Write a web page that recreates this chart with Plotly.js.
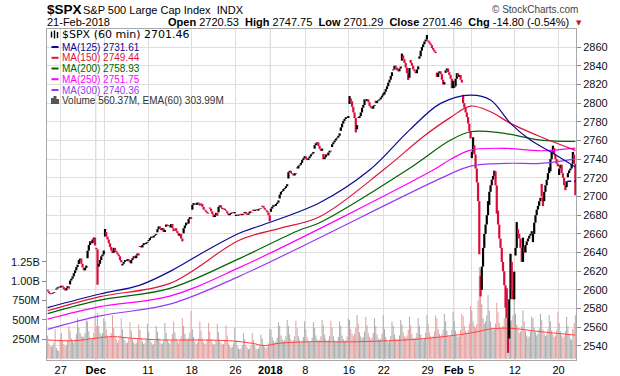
<!DOCTYPE html>
<html><head><meta charset="utf-8">
<script src="https://cdn.plot.ly/plotly-3.0.1.min.js"></script>
<style>html,body{margin:0;padding:0;background:#fff}#chart{width:620px;height:376px}</style>
</head><body><div id="chart"></div>
<script>
// ---------------- DATA ----------------
const dates = ['Nov 22','Nov 24','Nov 27','Nov 28','Nov 29','Nov 30','Dec 1','Dec 4','Dec 5','Dec 6','Dec 7','Dec 8',
'Dec 11','Dec 12','Dec 13','Dec 14','Dec 15','Dec 18','Dec 19','Dec 20','Dec 21','Dec 22','Dec 26','Dec 27','Dec 28','Dec 29',
'Jan 2','Jan 3','Jan 4','Jan 5','Jan 8','Jan 9','Jan 10','Jan 11','Jan 12','Jan 16','Jan 17','Jan 18','Jan 19','Jan 22','Jan 23',
'Jan 24','Jan 25','Jan 26','Jan 29','Jan 30','Jan 31','Feb 1','Feb 2','Feb 5','Feb 6','Feb 7','Feb 8','Feb 9','Feb 12','Feb 13',
'Feb 14','Feb 15','Feb 16','Feb 20','Feb 21'];
const dayOpen = [2600.3,2600.4,2602.7,2605.9,2627.8,2633.9,2645.1,2657.2,2639.8,2626.2,2628.4,2646.2,
2652.2,2661.7,2667.6,2665.9,2660.6,2685.9,2692.7,2688.2,2683.0,2684.2,2679.1,2682.1,2686.1,2689.2,
2683.7,2697.9,2719.3,2731.3,2742.7,2751.2,2745.6,2753.0,2770.2,2799.0,2785.0,2802.4,2802.6,2809.2,2835.0,
2845.4,2846.2,2847.5,2867.2,2832.7,2832.4,2816.5,2808.9,2741.1,2614.8,2691.0,2685.0,2601.8,2636.8,2646.3,
2651.2,2713.5,2727.1,2723.0,2720.53];
const hourClose = [
[2598.5,2596.5,2595.5,2596.0,2596.8,2597.5,2597.1],
[2601.5,2602.8,2603.5,2602.4],
[2604.5,2603.0,2600.5,2599.5,2602.0,2604.0,2601.4],
[2610,2612,2614.5,2618,2621,2624.5,2627.0],
[2632,2633.5,2628,2624,2621,2623.5,2626.1],
[2642,2648,2652,2650,2654,2656,2647.6],
[2643.5,2625,2628,2632,2636,2638,2642.2],
[2662,2657,2654,2650,2646,2642,2639.4],
[2645,2642,2640,2638,2636,2632,2629.6],
[2628,2630,2632,2631,2633,2630.5,2629.3],
[2632,2634,2636,2634,2637,2639,2637.0],
[2647,2645.5,2648,2650,2649,2650.5,2651.5],
[2653.5,2655.5,2657,2656,2658,2659,2660.0],
[2665,2668,2666,2664,2666,2662,2664.1],
[2670,2668.5,2669,2667,2670.5,2666,2662.9],
[2666,2663,2661,2658,2660,2655,2652.0],
[2666,2669,2672,2671,2676,2678,2675.8],
[2691,2693,2692.5,2691,2693.5,2692,2690.2],
[2692,2689,2686,2685,2683.5,2682,2681.5],
[2687,2684,2681,2678,2680,2682.5,2679.3],
[2689,2690.5,2688,2686.5,2687,2685.5,2684.6],
[2682,2680,2681.5,2682.5,2683,2682,2683.3],
[2680.5,2679.5,2680.5,2681,2680,2681.5,2680.5],
[2683.5,2681.5,2680.5,2682,2684,2683,2682.6],
[2684.5,2685.5,2686,2685,2686.5,2687,2687.5],
[2690,2688,2686,2685,2683,2680,2673.6],
[2687,2689,2691,2690,2692,2693.5,2695.8],
[2702,2705,2706,2708,2709,2711,2713.1],
[2726,2727.5,2725,2724,2722.5,2725,2724.0],
[2730,2733,2734,2736,2739,2741,2743.2],
[2740,2739,2741,2743,2745,2746,2747.7],
[2755,2757,2758,2754,2751,2749,2751.3],
[2740,2742,2745,2744,2747,2749,2748.2],
[2756,2758,2760,2762,2763,2765,2767.6],
[2774,2778,2781,2783,2785,2784,2786.2],
[2805,2802,2796,2790,2784,2772,2776.4],
[2784,2786,2790,2795,2798,2804,2802.6],
[2804,2801,2797,2795,2794,2797,2798.0],
[2800,2802,2803,2804,2806,2808,2810.3],
[2812,2815,2818,2822,2825,2829,2833.0],
[2836,2840,2838,2835,2834,2837,2839.1],
[2851,2847,2843,2838,2832,2827,2837.5],
[2843,2840,2836,2834,2832,2836,2839.3],
[2850,2856,2860,2863,2866,2868,2872.9],
[2866,2864,2862,2859,2857,2855,2853.5],
[2828,2832,2834,2831,2825,2820,2822.4],
[2835,2837,2833,2830,2826,2816,2823.8],
[2818,2826,2832,2828,2830,2825,2822.0],
[2800,2795,2790,2785,2778,2770,2762.1],
[2748,2755,2745,2730,2715,2695,2648.9],
[2600,2625,2645,2660,2670,2680,2695.1],
[2705,2712,2718,2722,2727,2712,2681.7],
[2670,2655,2645,2630,2620,2605,2581.0],
[2570,2548,2590,2630,2600,2590,2619.6],
[2645,2665,2660,2655,2645,2630,2656.0],
[2640,2648,2652,2655,2658,2660,2662.9],
[2660,2672,2680,2686,2690,2695,2698.6],
[2700,2695,2705,2712,2718,2725,2731.2],
[2740,2748,2752,2745,2740,2735,2732.2],
[2730,2734,2725,2720,2712,2710,2716.26],
[2725,2728,2730,2735,2745,2735,2701.46]];
// intraday extremes beyond open/close of the hourly bar
const spikeDay  = [6,7,35,35,41,41,49,49,50,51,53,53,54,57,58,59,60];
const spikeHour = [1,0,0,5,0,5,6,1,0,4,1,3,1,1,2,5,4];
const spikeVal  = [2605.5,2665.2,2807.5,2768.6,2853.0,2824.8,2638.2,2763.4,2593.1,2727.7,2532.7,2638.7,2672.6,2689.8,2754.4,2706.8,2747.75];
// hourly volume, millions
const hourVolM = [
[300,200,170,150,170,210,380],[140,110,100,260],[330,230,190,160,180,230,420],[360,260,230,210,250,320,520],
[400,330,300,280,290,330,500],[480,350,280,240,260,330,560],[420,590,420,330,300,330,520],[480,380,300,260,280,330,560],
[400,300,250,210,240,300,520],[380,280,230,200,210,260,470],[360,260,210,190,200,250,440],[370,270,220,190,200,240,450],
[340,250,210,180,190,230,420],[350,260,220,190,200,240,460],[330,250,210,190,230,320,480],[340,260,220,200,230,290,520],
[420,320,260,240,260,340,615],[380,280,220,190,210,260,480],[360,260,210,190,200,250,460],[350,250,200,180,190,240,450],
[340,240,200,180,190,240,430],[300,200,160,140,150,200,400],[240,170,130,120,130,170,330],[250,170,140,120,130,170,330],
[240,170,130,120,130,160,310],[260,180,150,130,150,200,380],[380,280,230,200,220,270,470],[420,300,250,220,240,290,500],
[420,310,250,220,240,290,490],[400,290,240,210,230,280,480],[380,280,230,210,220,270,470],[400,300,250,220,240,290,500],
[430,310,250,220,240,290,490],[400,290,240,210,230,280,480],[420,300,250,220,240,290,520],[500,380,320,290,320,400,560],
[450,340,290,260,280,350,540],[430,330,280,250,270,330,520],[420,310,260,240,260,320,560],[380,280,230,210,230,290,480],
[420,310,260,230,250,300,500],[440,340,290,270,300,370,540],[430,320,270,250,270,330,520],[420,310,260,240,260,330,560],
[450,340,290,270,290,350,560],[520,380,320,290,310,370,580],[480,360,300,280,300,380,600],[480,360,300,280,300,370,580],
[550,420,360,330,370,450,680],[620,480,420,400,450,750,1180],[1150,700,520,450,480,560,820],[620,480,400,360,380,450,720],
[600,460,400,380,420,520,800],[800,700,560,480,500,560,780],[580,440,380,330,350,420,620],[480,360,300,270,290,350,540],
[520,400,340,300,320,390,580],[500,380,320,290,310,380,560],[480,360,310,280,300,370,600],[460,350,300,270,290,360,540],
[420,310,260,240,380,460,560.37]];
// moving averages (bar number -> value)
const ma125Bars = [0,42,74,100,128,154,168,218,258,290,315,339,355,371,387,403,423];
const ma125Vals = [2581.1,2595.6,2605.2,2621.2,2642.7,2660.9,2667.6,2693.3,2728.3,2771.1,2799.7,2808.6,2803.3,2778.3,2760.4,2747.9,2731.61];
const ma150Bars = [0,42,98,154,186,218,269,301,323,339,355,371,395,423];
const ma150Vals = [2577.7,2592.9,2607.0,2653.4,2665.9,2678.3,2728.3,2764.0,2784.7,2796.8,2790.7,2778.3,2764.0,2749.44];
const ma200Bars = [0,42,98,154,202,218,288,323,339,363,395,423];
const ma200Vals = [2574.7,2589.1,2601.7,2633.8,2664.1,2671.9,2728.3,2760.4,2769.3,2768.2,2760.4,2758.93];
const ma250Bars = [0,42,98,154,309,323,339,368,395,423];
const ma250Vals = [2568.8,2582.2,2593.4,2624.1,2728.3,2739.8,2749.7,2751.5,2749.0,2751.75];
const ma300Bars = [0,42,98,154,315,339,368,395,423];
const ma300Vals = [2557.8,2572.2,2584.8,2614.8,2719.4,2732.6,2735.5,2735.5,2740.36];
const emaBars = [0,22,38,52,68,92,118,145,164,174,185,214,242,298,339,355,371,395,423];
const emaValsM = [241,232,263,284,263,241,241,232,198,168,198,219,216,254,331,383,392,348,303.99];
// header values
const symbol = '$SPX', fullName = 'S&amp;P 500 Large Cap Index', exch = 'INDX', lastDate = '21-Feb-2018';
const hdrOpen = 2720.53, hdrHigh = 2747.75, hdrLow = 2701.29, hdrClose = 2701.46, hdrChg = -14.80, hdrChgPct = -0.54;
const prevClose = 2716.26;
const lastVolM = 560.37, lastEmaM = 303.99;
// axes
const tickDates = ['Nov 27','Dec 1','Dec 4','Dec 11','Dec 18','Dec 26','Jan 2','Jan 8','Jan 16','Jan 22','Jan 29','Feb 1','Feb 5','Feb 12','Feb 20'];
const tickText  = ['27','<b>Dec</b>','','11','18','26','<b>2018</b>','8','16','22','29','<b>Feb</b>','5','12','20'];
const monthDates = ['Dec 1','Jan 2','Feb 1'];
const priceTicks = [2540,2560,2580,2600,2620,2640,2660,2680,2700,2720,2740,2760,2780,2800,2820,2840,2860];
const volTicks = [250e6,500e6,750e6,1000e6,1250e6];
const volTickText = ['250M','500M','750M','1.00B','1.25B'];

// ---------------- BUILD ----------------
const dayStart = [];
const bx=[],bo=[],bh=[],bl=[],bc=[],bv=[],vcol=[];
let n=0, prev=null;
hourClose.forEach((day,di)=>{
  dayStart.push(n);
  day.forEach((c,hi)=>{
    const o = hi===0 ? dayOpen[di] : prev;
    let h=Math.max(o,c), l=Math.min(o,c);
    spikeDay.forEach((sd,k)=>{ if(sd===di && spikeHour[k]===hi){ h=Math.max(h,spikeVal[k]); l=Math.min(l,spikeVal[k]); }});
    bx.push(n); bo.push(o); bh.push(h); bl.push(l); bc.push(c);
    bv.push(hourVolM[di][hi]*1e6);
    vcol.push(c>=o ? '#acacac' : '#e6a0a0');
    prev=c; n++;
  });
});
const lastBar = n-1;
const dStart = d => dayStart[dates.indexOf(d)] - 0.5;

// pixel helpers for layout placement (plot area 47..576 x 29..360)
const PL=47, PR=576, PT=29, PB=360;
const px = x => (x-PL)/(PR-PL);
const py = y => (PB-y)/(PB-PT);

const traces = [
  {type:'bar', x:bx, y:bv, marker:{color:vcol, line:{width:0}}, width:0.8, yaxis:'y', hoverinfo:'skip'},
  {type:'scatter', mode:'lines', x:emaBars, y:emaValsM.map(v=>v*1e6), line:{color:'#ff4040', width:1, shape:'spline'}, yaxis:'y'},
  {type:'scatter', mode:'lines', x:ma300Bars, y:ma300Vals, line:{color:'#963cf0', width:1.2, shape:'spline'}, yaxis:'y2'},
  {type:'scatter', mode:'lines', x:ma250Bars, y:ma250Vals, line:{color:'#ff00ff', width:1.2, shape:'spline'}, yaxis:'y2'},
  {type:'scatter', mode:'lines', x:ma200Bars, y:ma200Vals, line:{color:'#006400', width:1.2, shape:'spline'}, yaxis:'y2'},
  {type:'scatter', mode:'lines', x:ma150Bars, y:ma150Vals, line:{color:'#dc143c', width:1.2, shape:'spline'}, yaxis:'y2'},
  {type:'scatter', mode:'lines', x:ma125Bars, y:ma125Vals, line:{color:'#0a0a90', width:1.2, shape:'spline'}, yaxis:'y2'},
  {type:'ohlc', x:bx, open:bo, high:bh, low:bl, close:bc, tickwidth:0, yaxis:'y2',
   increasing:{line:{color:'#000000', width:2.2}}, decreasing:{line:{color:'#dc0a3c', width:2.2}}, hoverinfo:'skip'},
  {type:'scatter', mode:'lines', x:[dayStart[dayStart.length-1]-0.5, lastBar+0.5], y:[prevClose, prevClose],
   line:{color:'#0000ff', width:1.5, dash:'4px,3px'}, yaxis:'y2'}
];

const shapes = monthDates.map(d=>({type:'line', xref:'x', yref:'paper', x0:dStart(d), x1:dStart(d), y0:0, y1:1,
  line:{color:'#b4b4b4', width:1}, layer:'below'}));

const ann = [];
const A = (x,y,text,opt={}) => ann.push(Object.assign({xref:'paper', yref:'paper', x:px(x), y:py(y), text:text, showarrow:false,
  xanchor:'left', yanchor:'middle', font:{family:'Liberation Sans, Arial', size:11, color:'#000'}}, opt));
A(45, 9, '<b>'+symbol+'</b>', {font:{family:'Liberation Sans, Arial', size:13.5, color:'#000'}});
A(81, 9.5, fullName+'  '+exch, {font:{family:'Liberation Sans, Arial', size:11, color:'#000'}});
A(580, 9.5, '© StockCharts.com', {xanchor:'right', font:{family:'Liberation Sans, Arial', size:10, color:'#444'}});
A(45, 22, lastDate);
const f2 = v => v.toFixed(2);
A(571, 22, '<b>Open</b> '+f2(hdrOpen)+'  <b>High</b> '+f2(hdrHigh)+'  <b>Low</b> '+f2(hdrLow)+'  <b>Close</b> '+f2(hdrClose)+
  '  <b>Chg</b> '+f2(hdrChg)+' ('+f2(hdrChgPct)+'%)', {xanchor:'right'});
A(574, 22.5, '▼', {font:{family:'DejaVu Sans', size:7, color:'#c8102e'}});

// legend
const legRows = [
  [35, symbol+' (60 min) '+f2(hdrClose), '#000', 11, 'DejaVu Sans'],
  [47, 'MA(125) '+f2(ma125Vals[ma125Vals.length-1]), '#0a0a90', 10, 'Liberation Sans, Arial'],
  [57.8, 'MA(150) '+f2(ma150Vals[ma150Vals.length-1]), '#dc143c', 10, 'Liberation Sans, Arial'],
  [68.5, 'MA(200) '+f2(ma200Vals[ma200Vals.length-1]), '#006400', 10, 'Liberation Sans, Arial'],
  [79.2, 'MA(250) '+f2(ma250Vals[ma250Vals.length-1]), '#ff00ff', 10, 'Liberation Sans, Arial'],
  [90, 'MA(300) '+f2(ma300Vals[ma300Vals.length-1]), '#963cf0', 10, 'Liberation Sans, Arial'],
  [100.7, 'Volume '+f2(lastVolM)+'M, EMA(60) '+f2(lastEmaM)+'M', '#333', 10, 'Liberation Sans, Arial']
];
legRows.forEach((r,i)=>{
  A(59.5, r[0], r[1], {font:{family:r[4], size:r[3], color:r[2]}});
  if(i>0 && i<6){
    shapes.push({type:'line', xref:'paper', yref:'paper', x0:px(51.5), x1:px(58.5), y0:py(r[0]), y1:py(r[0]), line:{color:r[2], width:2}});
  }
});
// ohlc icon and volume icon
[[51.5,31.5,37.5],[54.5,30.5,38.5],[57.5,32,38]].forEach(s=>shapes.push({type:'line', xref:'paper', yref:'paper',
  x0:px(s[0]), x1:px(s[0]), y0:py(s[1]), y1:py(s[2]), line:{color:'#000', width:1.4}}));
[[51,54,98],[53.5,56.5,96],[56,59,99]].forEach(s=>shapes.push({type:'rect', xref:'paper', yref:'paper',
  x0:px(s[0]), x1:px(s[1]), y0:py(104), y1:py(s[2]), fillcolor:'#555', line:{width:0}}));

const layout = {
  width:620, height:376, margin:{l:PL, r:620-PR, t:PT, b:376-PB}, paper_bgcolor:'#fff', plot_bgcolor:'#fff',
  showlegend:false, font:{family:'Liberation Sans, Arial', size:11, color:'#111'},
  xaxis:{range:[-0.5, lastBar+0.5], tickmode:'array', tickvals:tickDates.map(dStart), ticktext:tickText,
    showgrid:true, gridcolor:'#dedede', gridwidth:1, ticks:'', showline:true, linecolor:'#a8a8a8', mirror:true,
    zeroline:false, rangeslider:{visible:false}, tickfont:{size:11, color:'#000'}, fixedrange:true},
  yaxis:{range:[-17e6, 4248e6], tickmode:'array', tickvals:volTicks, ticktext:volTickText, showgrid:false,
    ticks:'outside', ticklen:4, tickcolor:'#888', showline:true, linecolor:'#a8a8a8', zeroline:false,
    tickfont:{size:11, color:'#111'}, fixedrange:true},
  yaxis2:{overlaying:'y', side:'right', range:[2525, 2879.3], tickmode:'array', tickvals:priceTicks,
    showgrid:true, gridcolor:'#dedede', ticks:'outside', ticklen:4, tickcolor:'#888', showline:true, linecolor:'#a8a8a8',
    zeroline:false, tickfont:{size:11, color:'#111'}, fixedrange:true},
  shapes:shapes, annotations:ann
};
Plotly.newPlot('chart', traces, layout, {staticPlot:true, displayModeBar:false});
</script></body></html>
